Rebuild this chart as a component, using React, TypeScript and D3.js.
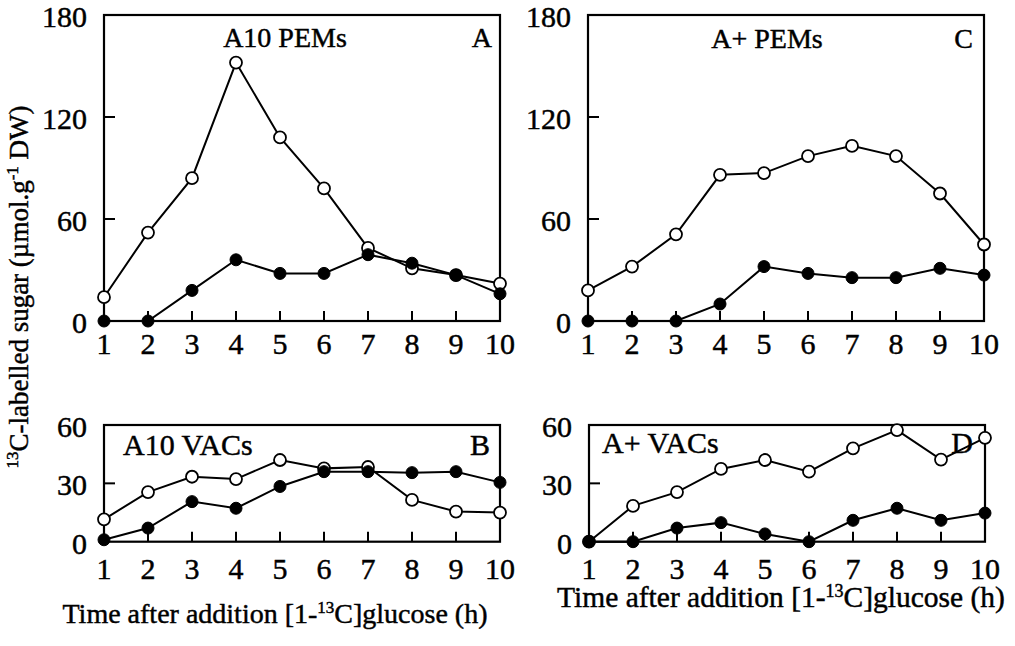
import React from "react";
import * as d3 from "d3";

const hours = [1, 2, 3, 4, 5, 6, 7, 8, 9, 10];
const topYTicks = [0, 60, 120, 180];
const bottomYTicks = [0, 30, 60];

const a10PemsOpen = [14, 52, 84, 152, 108, 78, 43, 31, 27, 22];
const a10PemsFilled = [0, 0, 18, 36, 28, 28, 39, 34, 27, 16];
const apPemsOpen = [18, 32, 51, 86, 87, 97, 103, 97, 75, 45];
const apPemsFilled = [0, 0, 0, 10, 32, 28, 25.5, 25.5, 31, 27];
const a10VacsOpen = [11.5, 25.5, 33.4, 32.2, 42, 37.7, 38.4, 21.5, 15.5, 15];
const a10VacsFilled = [1, 7, 20.6, 17.2, 28.4, 36, 36, 35.5, 36, 30.5];
const apVacsOpen = [0, 18.4, 25.5, 37.4, 42, 36, 48, 57.4, 42.2, 53.4];
const apVacsFilled = [0, 0, 7, 9.8, 4, 0, 11, 17.2, 11, 14.7];

const FONT = "'Liberation Serif', 'Times New Roman', serif";
const TXT = { fontFamily: FONT, stroke: "#000", strokeWidth: 0.45 } as const;

type PanelProps = {
  left: number;
  right: number;
  top: number;
  bottom: number;
  yMax: number;
  yTicks: number[];
  open: number[];
  filled: number[];
  title: string;
  titleX: number;
  titleY: number;
  titleSize: number;
  titleAnchor: "start" | "middle" | "end";
  letter: string;
  letterX: number;
  xLabelY: number;
};

function Panel(p: PanelProps) {
  const x = d3.scaleLinear().domain([1, 10]).range([p.left, p.right]);
  const y = d3.scaleLinear().domain([0, p.yMax]).range([p.bottom, p.top]);
  const line = d3
    .line<number>()
    .x((_, i) => x(hours[i]))
    .y((d) => y(d));
  const r = 6;
  return (
    <g>
      <rect
        x={p.left}
        y={p.top}
        width={p.right - p.left}
        height={p.bottom - p.top}
        fill="none"
        stroke="#000"
        strokeWidth={2.2}
      />
      {hours.slice(1, -1).map((h) => (
        <line key={"xt" + h} x1={x(h)} x2={x(h)} y1={p.bottom} y2={p.bottom - 10} stroke="#000" strokeWidth={2} />
      ))}
      {p.yTicks.slice(1, -1).map((t) => (
        <line key={"yt" + t} x1={p.left} x2={p.left + 11} y1={y(t)} y2={y(t)} stroke="#000" strokeWidth={2} />
      ))}
      {p.yTicks.map((t) => (
        <text key={"yl" + t} x={p.left - 17} y={y(t) + 12} textAnchor="end" fontSize={30} {...TXT}>
          {t}
        </text>
      ))}
      {hours.map((h) => (
        <text key={"xl" + h} x={x(h)} y={p.xLabelY} textAnchor="middle" fontSize={30} {...TXT}>
          {h}
        </text>
      ))}
      <text x={p.titleX} y={p.titleY} textAnchor={p.titleAnchor} fontSize={p.titleSize} {...TXT}>
        {p.title}
      </text>
      <text x={p.letterX} y={p.titleY} textAnchor="end" fontSize={p.titleSize} {...TXT}>
        {p.letter}
      </text>
      <path d={line(p.open) || ""} fill="none" stroke="#000" strokeWidth={2} />
      <path d={line(p.filled) || ""} fill="none" stroke="#000" strokeWidth={2} />
      {p.open.map((v, i) => (
        <circle key={"o" + i} cx={x(hours[i])} cy={y(v)} r={r} fill="#fff" stroke="#000" strokeWidth={1.8} />
      ))}
      {p.filled.map((v, i) => (
        <circle key={"f" + i} cx={x(hours[i])} cy={y(v)} r={r} fill="#000" stroke="#000" strokeWidth={1} />
      ))}
    </g>
  );
}

export default function App() {
  return (
    <svg
      width={1015}
      height={646}
      viewBox="0 0 1015 646"
      style={{ position: "absolute", left: 0, top: 0, background: "#fff" }}
    >
      <rect x={0} y={0} width={1015} height={646} fill="#fff" />
      <Panel
        left={104}
        right={500}
        top={15}
        bottom={321}
        yMax={180}
        yTicks={topYTicks}
        open={a10PemsOpen}
        filled={a10PemsFilled}
        title="A10 PEMs"
        titleX={285}
        titleY={47}
        titleSize={28}
        titleAnchor="middle"
        letter="A"
        letterX={492}
        xLabelY={354}
      />
      <Panel
        left={588}
        right={984}
        top={15}
        bottom={321}
        yMax={180}
        yTicks={topYTicks}
        open={apPemsOpen}
        filled={apPemsFilled}
        title="A+ PEMs"
        titleX={767}
        titleY={48}
        titleSize={28}
        titleAnchor="middle"
        letter="C"
        letterX={973}
        xLabelY={354}
      />
      <Panel
        left={104}
        right={500}
        top={425}
        bottom={541.7}
        yMax={60}
        yTicks={bottomYTicks}
        open={a10VacsOpen}
        filled={a10VacsFilled}
        title="A10 VACs"
        titleX={123}
        titleY={455}
        titleSize={30}
        titleAnchor="start"
        letter="B"
        letterX={490}
        xLabelY={579}
      />
      <Panel
        left={589}
        right={985}
        top={425}
        bottom={541.7}
        yMax={60}
        yTicks={bottomYTicks}
        open={apVacsOpen}
        filled={apVacsFilled}
        title="A+ VACs"
        titleX={602}
        titleY={453}
        titleSize={30}
        titleAnchor="start"
        letter="D"
        letterX={973}
        xLabelY={579}
      />
      <text transform="translate(28,287) rotate(-90)" textAnchor="middle" fontSize={27} {...TXT}>
        <tspan fontSize={17} dy={-10}>13</tspan>
        <tspan dy={10}>C-labelled sugar (µmol.g</tspan>
        <tspan fontSize={17} dy={-10}>-1</tspan>
        <tspan dy={10}> DW)</tspan>
      </text>
      <text x={275} y={623} textAnchor="middle" fontSize={28} {...TXT}>
        Time after addition [1-
        <tspan fontSize={17} dy={-10}>13</tspan>
        <tspan dy={10}>C]glucose (h)</tspan>
      </text>
      <text x={781} y={607} textAnchor="middle" fontSize={29.5} {...TXT}>
        Time after addition [1-
        <tspan fontSize={18} dy={-10}>13</tspan>
        <tspan dy={10}>C]glucose (h)</tspan>
      </text>
    </svg>
  );
}
